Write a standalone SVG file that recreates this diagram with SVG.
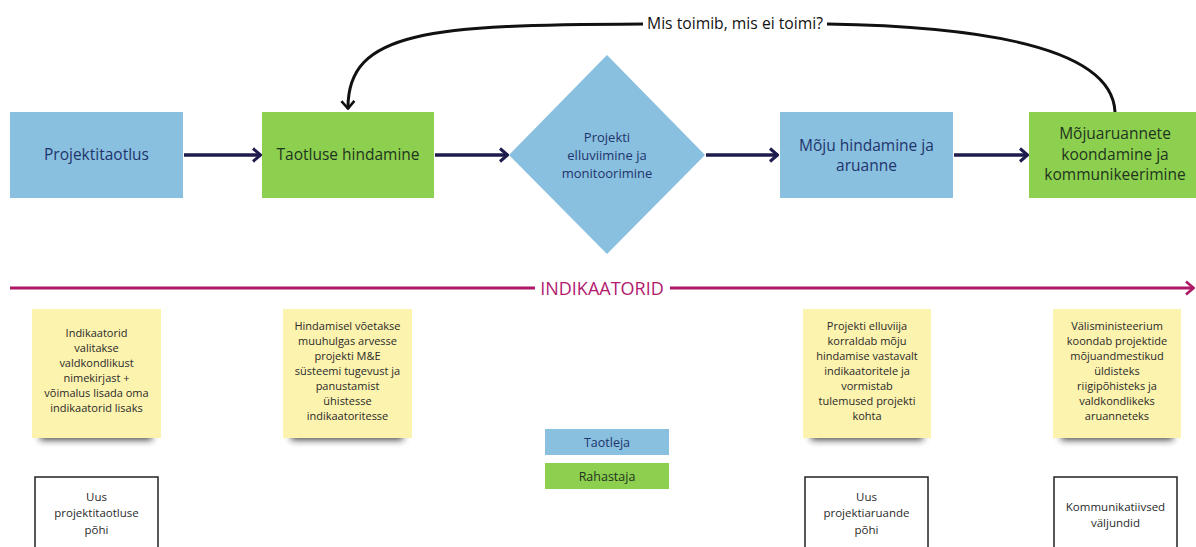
<svg xmlns="http://www.w3.org/2000/svg" width="1196" height="547" viewBox="0 0 1196 547">
<style>
text{font-family:"Open Sans","Noto Sans","DejaVu Sans",sans-serif;text-anchor:middle}
.blue{fill:#89bfdf}
.green{fill:#8dcf4e}
.tb{fill:#1f356b;font-size:15.5px}
.tg{fill:#1d3520;font-size:15.5px}
.td{fill:#1f356b;font-size:13px}
.sticky{fill:#fcf3ae}
.st{fill:#2a2a2a;font-size:11px}
.wb{fill:#fff;stroke:#222;stroke-width:1.5}
.wt{fill:#2a2a2a;font-size:11.5px}
.flow{fill:none;stroke:#1e1c4d;stroke-width:3.5}
.loop{fill:none;stroke:#111;stroke-width:3}
.ind{fill:none;stroke:#ad1765;stroke-width:3}
.lg{font-size:12.5px}
.shd{fill:#222;opacity:0.85}
</style>
<defs>
<marker id="nv" viewBox="0 0 10 16" refX="9" refY="8" markerWidth="10" markerHeight="16" markerUnits="userSpaceOnUse" orient="auto">
<path d="M1,1.5 L8.5,8 L1,14.5" fill="none" stroke="#1e1c4d" stroke-width="3"/>
</marker>
<marker id="bk" viewBox="0 0 10 16" refX="9" refY="8" markerWidth="10" markerHeight="16" markerUnits="userSpaceOnUse" orient="auto">
<path d="M1,1.5 L8.5,8 L1,14.5" fill="none" stroke="#111" stroke-width="2.6"/>
</marker>
<marker id="mg" viewBox="0 0 10 16" refX="9" refY="8" markerWidth="10" markerHeight="16" markerUnits="userSpaceOnUse" orient="auto">
<path d="M1,1.5 L8.5,8 L1,14.5" fill="none" stroke="#ad1765" stroke-width="2.6"/>
</marker>
<filter id="sh" x="-20%" y="-200%" width="140%" height="500%">
<feGaussianBlur stdDeviation="3.5"/>
</filter>
</defs>

<g id="connectors">
<line class="flow" x1="184" y1="155" x2="261" y2="155" marker-end="url(#nv)"/>
<line class="flow" x1="435" y1="155" x2="508" y2="155" marker-end="url(#nv)"/>
<line class="flow" x1="706" y1="155" x2="778" y2="155" marker-end="url(#nv)"/>
<line class="flow" x1="954" y1="155" x2="1028" y2="155" marker-end="url(#nv)"/>
<path class="loop" d="M1115,112 C1112,40 950,26 827,24"/>
<path class="loop" d="M643,24 C430,25 347,30 348,109" marker-end="url(#bk)"/>
<text x="735" y="29" style="fill:#111;font-size:15.7px">Mis toimib, mis ei toimi?</text>
<line class="ind" x1="10" y1="288" x2="535" y2="288"/>
<line class="ind" x1="670" y1="288" x2="1194" y2="288" marker-end="url(#mg)"/>
<text x="602" y="295" style="fill:#b21a6e;font-size:18px">INDIKAATORID</text>
</g>

<g id="projektitaotlus">
<rect class="blue" x="10" y="112" width="173" height="86"/>
<text class="tb" x="96.5" y="160">Projektitaotlus</text>
</g>
<g id="taotluse-hindamine">
<rect class="green" x="262" y="112" width="172" height="86"/>
<text class="tg" x="348" y="160">Taotluse hindamine</text>
</g>
<g id="elluviimine">
<polygon class="blue" points="607,55 705,155 607,254 509,155"/>
<text class="td" x="607" y="142">Projekti</text>
<text class="td" x="607" y="160">elluviimine ja</text>
<text class="td" x="607" y="178">monitoorimine</text>
</g>
<g id="moju-hindamine">
<rect class="blue" x="780" y="112" width="173" height="86"/>
<text class="tb" x="866.5" y="150.5">Mõju hindamine ja</text>
<text class="tb" x="866.5" y="171">aruanne</text>
</g>
<g id="mojuaruannete">
<rect class="green" x="1029" y="112" width="172" height="86"/>
<text class="tg" x="1115" y="139">Mõjuaruannete</text>
<text class="tg" x="1115" y="159.5">koondamine ja</text>
<text class="tg" x="1115" y="180">kommunikeerimine</text>
</g>

<g id="note1">
<rect class="shd" x="40" y="430" width="112" height="10" filter="url(#sh)"/>
<rect class="sticky" x="32" y="309" width="129" height="129"/>
<text class="st" x="96.5" y="337">Indikaatorid</text>
<text class="st" x="96.5" y="352">valitakse</text>
<text class="st" x="96.5" y="367">valdkondlikust</text>
<text class="st" x="96.5" y="382">nimekirjast +</text>
<text class="st" x="96.5" y="397">võimalus lisada oma</text>
<text class="st" x="96.5" y="412">indikaatorid lisaks</text>
</g>
<g id="note2">
<rect class="shd" x="291" y="430" width="112" height="10" filter="url(#sh)"/>
<rect class="sticky" x="283" y="309" width="129" height="129"/>
<text class="st" x="347.5" y="330">Hindamisel võetakse</text>
<text class="st" x="347.5" y="345">muuhulgas arvesse</text>
<text class="st" x="347.5" y="360">projekti M&amp;E</text>
<text class="st" x="347.5" y="375">süsteemi tugevust ja</text>
<text class="st" x="347.5" y="390">panustamist</text>
<text class="st" x="347.5" y="405">ühistesse</text>
<text class="st" x="347.5" y="420">indikaatoritesse</text>
</g>
<g id="note3">
<rect class="shd" x="811" y="430" width="112" height="10" filter="url(#sh)"/>
<rect class="sticky" x="803" y="309" width="128" height="129"/>
<text class="st" x="867" y="330">Projekti elluviija</text>
<text class="st" x="867" y="345">korraldab mõju</text>
<text class="st" x="867" y="360">hindamise vastavalt</text>
<text class="st" x="867" y="375">indikaatoritele ja</text>
<text class="st" x="867" y="390">vormistab</text>
<text class="st" x="867" y="405">tulemused projekti</text>
<text class="st" x="867" y="420">kohta</text>
</g>
<g id="note4">
<rect class="shd" x="1061" y="430" width="112" height="10" filter="url(#sh)"/>
<rect class="sticky" x="1053" y="309" width="128" height="129"/>
<text class="st" x="1117" y="330">Välisministeerium</text>
<text class="st" x="1117" y="345">koondab  projektide</text>
<text class="st" x="1117" y="360">mõjuandmestikud</text>
<text class="st" x="1117" y="375">üldisteks</text>
<text class="st" x="1117" y="390">riigipõhisteks ja</text>
<text class="st" x="1117" y="405">valdkondlikeks</text>
<text class="st" x="1117" y="420">aruanneteks</text>
</g>

<g id="legend-taotleja">
<rect class="blue" x="545" y="429" width="124" height="26"/>
<text class="lg" x="607" y="446.5" fill="#1f356b">Taotleja</text>
</g>
<g id="legend-rahastaja">
<rect class="green" x="545" y="463" width="124" height="26"/>
<text class="lg" x="607" y="480.5" fill="#1d3520">Rahastaja</text>
</g>

<g id="box-taotlus">
<rect class="wb" x="35" y="477" width="123" height="80"/>
<text class="wt" x="96.5" y="501">Uus</text>
<text class="wt" x="96.5" y="517">projektitaotluse</text>
<text class="wt" x="96.5" y="534">põhi</text>
</g>
<g id="box-aruanne">
<rect class="wb" x="805" y="477" width="123" height="80"/>
<text class="wt" x="866.5" y="501">Uus</text>
<text class="wt" x="866.5" y="517">projektiaruande</text>
<text class="wt" x="866.5" y="534">põhi</text>
</g>
<g id="box-valjundid">
<rect class="wb" x="1054" y="477" width="123" height="80"/>
<text class="wt" x="1115.5" y="511">Kommunikatiivsed</text>
<text class="wt" x="1115.5" y="527">väljundid</text>
</g>
</svg>
